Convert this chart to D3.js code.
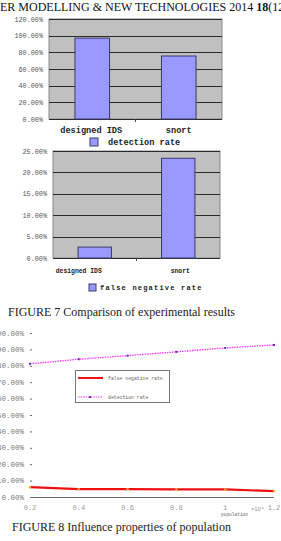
<!DOCTYPE html>
<html>
<head>
<meta charset="utf-8">
<script src="https://cdn.jsdelivr.net/npm/d3@7"></script>
<style>
  body { margin: 0; background: #fff; }
  svg { display: block; }
</style>
</head>
<body>
<svg width="281" height="541"></svg>
<script>
//	data for figure 7 (bar charts)
var categories = ["designed IDS", "snort"];
var detectionRate = [0.97, 0.756];
var falseNegRate = [0.0255, 0.233];
var detTicks = [0, 0.2, 0.4, 0.6, 0.8, 1.0, 1.2];
var fnTicks = [0, 0.05, 0.10, 0.15, 0.20, 0.25];

//	data for figure 8 (line chart)
var population = [0.2, 0.4, 0.6, 0.8, 1.0, 1.2];
var popDetection = [0.812, 0.84, 0.862, 0.885, 0.909, 0.927];
var popFalseNeg = [0.06, 0.048, 0.048, 0.046, 0.046, 0.036];
var popYTicks = [0, 0.1, 0.2, 0.3, 0.4, 0.5, 0.6, 0.7, 0.8, 0.9, 1.0];
var popXTicks = [0.2, 0.4, 0.6, 0.8, 1, 1.2];

var svg = d3.select("svg"),
    width = +svg.attr("width"),
    height = +svg.attr("height");

var mono = "'Liberation Mono', 'DejaVu Sans Mono', monospace",
    serif = "'Liberation Serif', 'Times New Roman', serif";

var pct = d3.format(".2%");

// running header (cut off by the page edge)
svg.append("text")
    .attr("x", 0)
    .attr("y", 11)
    .attr("font-family", serif)
    .attr("font-size", 12)
    .attr("fill", "#111")
    .html('ER MODELLING &amp; NEW TECHNOLOGIES 2014 <tspan font-weight="bold">18</tspan>(12)');

//	a simple excel-ish bar chart
function barChart(opt) {
  var x = d3.scaleBand()
      .domain(categories)
      .range([opt.left, opt.right])
      .paddingInner(0.6)
      .paddingOuter(0.3);

  var y = d3.scaleLinear()
      .domain([0, opt.max])
      .range([opt.bottom, opt.top]);

  var g = svg.append("g");

  // grey plot area
  g.append("rect")
      .attr("x", opt.left)
      .attr("y", opt.top)
      .attr("width", opt.right - opt.left)
      .attr("height", opt.bottom - opt.top)
      .attr("fill", "#c0c0c0")
      .attr("stroke", "#8a8a8a")
      .attr("stroke-width", 1);

  // gridlines
  g.selectAll(".grid")
      .data(opt.ticks)
      .enter().append("line")
      .attr("class", "grid")
      .attr("x1", opt.left)
      .attr("x2", opt.right)
      .attr("y1", function(d) { return Math.round(y(d)) + 0.5; })
      .attr("y2", function(d) { return Math.round(y(d)) + 0.5; })
      .attr("stroke", "#2a2a2a")
      .attr("stroke-width", 1);

  // tick labels
  g.selectAll(".ylab")
      .data(opt.ticks)
      .enter().append("text")
      .attr("x", opt.left - 6)
      .attr("y", function(d) { return y(d) + 2.5; })
      .attr("text-anchor", "end")
      .attr("font-family", mono)
      .attr("font-size", opt.tickFont)
      .attr("fill", "#555")
      .text(function(d) { return pct(d); });

  // bars
  g.selectAll(".bar")
      .data(opt.values)
      .enter().append("rect")
      .attr("class", "bar")
      .attr("x", function(d, i) { return x(categories[i]); })
      .attr("y", function(d) { return y(d); })
      .attr("width", x.bandwidth())
      .attr("height", function(d) { return opt.bottom - y(d); })
      .attr("fill", "#9999ff")
      .attr("stroke", "#3a3a6a")
      .attr("stroke-width", 1);

  // small centre tick on the category axis
  g.append("line")
      .attr("x1", (opt.left + opt.right) / 2)
      .attr("x2", (opt.left + opt.right) / 2)
      .attr("y1", opt.bottom)
      .attr("y2", opt.bottom + 3)
      .attr("stroke", "#444");

  // category labels
  g.selectAll(".xlab")
      .data(categories)
      .enter().append("text")
      .attr("x", function(d, i) { return x(d) + x.bandwidth() / 2 + opt.labShift[i]; })
      .attr("y", opt.labY)
      .attr("text-anchor", "middle")
      .attr("font-family", mono)
      .attr("font-size", opt.labFont)
      .attr("font-weight", "bold")
      .attr("fill", "#222")
      .text(function(d) { return d; });

  // legend
  g.append("rect")
      .attr("x", opt.legX)
      .attr("y", opt.legY)
      .attr("width", opt.legSize)
      .attr("height", opt.legSize)
      .attr("fill", "#9999ff")
      .attr("stroke", "#3a3a6a");

  g.append("text")
      .attr("x", opt.legX + opt.legSize + opt.legGap)
      .attr("y", opt.legY + opt.legSize - 1)
      .attr("font-family", mono)
      .attr("font-size", opt.legFont)
      .attr("font-weight", "bold")
      .attr("letter-spacing", opt.legSpacing)
      .attr("fill", "#222")
      .text(opt.legend);
}

barChart({
  values: detectionRate, ticks: detTicks, max: 1.2,
  left: 49, right: 222, top: 19, bottom: 119,
  tickFont: 6.8, labFont: 8.6, labY: 133, labShift: [-1, 0],
  legX: 90, legY: 138, legSize: 8, legGap: 10, legFont: 8.6, legSpacing: 0,
  legend: "detection rate"
});

barChart({
  values: falseNegRate, ticks: fnTicks, max: 0.25,
  left: 53, right: 220, top: 151, bottom: 258,
  tickFont: 6.8, labFont: 6.4, labY: 273, labShift: [-16, 2],
  legX: 89, legY: 284, legSize: 7, legGap: 4, legFont: 7, legSpacing: 1.2,
  legend: "false negative rate"
});

// figure 7 caption
svg.append("text")
    .attr("x", 8)
    .attr("y", 316)
    .attr("font-family", serif)
    .attr("font-size", 12)
    .attr("fill", "#222")
    .text("FIGURE 7 Comparison of experimental results");

//	figure 8 line chart
var x8 = d3.scaleLinear()
    .domain([0.2, 1.2])
    .range([30, 274]);

var y8 = d3.scaleLinear()
    .domain([0, 1])
    .range([497, 333]);

var g8 = svg.append("g");

// y labels, mostly cut by the page edge
g8.selectAll(".ylab8")
    .data(popYTicks)
    .enter().append("text")
    .attr("x", 24)
    .attr("y", function(d) { return y8(d) + 2.5; })
    .attr("text-anchor", "end")
    .attr("font-family", mono)
    .attr("font-size", 7.5)
    .attr("fill", "#777")
    .text(function(d) { return pct(d); });

g8.selectAll(".ytick8")
    .data(popYTicks.filter(function(d) { return d > 0; }))
    .enter().append("line")
    .attr("x1", 30)
    .attr("x2", 32)
    .attr("y1", function(d) { return y8(d) + 0.5; })
    .attr("y2", function(d) { return y8(d) + 0.5; })
    .attr("stroke", "#666");

// x axis
g8.append("line")
    .attr("x1", x8(0.2))
    .attr("x2", x8(1.2))
    .attr("y1", 497.5)
    .attr("y2", 497.5)
    .attr("stroke", "#666")
    .attr("stroke-width", 1);

g8.selectAll(".xlab8")
    .data(popXTicks)
    .enter().append("text")
    .attr("x", function(d) { return x8(d); })
    .attr("y", 510)
    .attr("text-anchor", "middle")
    .attr("font-family", mono)
    .attr("font-size", 7)
    .attr("fill", "#999")
    .text(function(d) { return d; });

g8.append("text")
    .attr("x", 221)
    .attr("y", 516)
    .attr("font-family", mono)
    .attr("font-size", 4.5)
    .attr("fill", "#666")
    .text("population");

g8.append("text")
    .attr("x", 251)
    .attr("y", 511)
    .attr("font-family", mono)
    .attr("font-size", 5.5)
    .attr("fill", "#999")
    .text("×10⁴");

var line8 = d3.line()
    .x(function(d) { return x8(d[0]); })
    .y(function(d) { return y8(d[1]); });

// detection rate: dotted magenta
g8.append("path")
    .datum(d3.zip(population, popDetection))
    .attr("fill", "none")
    .attr("stroke", "#ff33ff")
    .attr("stroke-width", 1.3)
    .attr("stroke-dasharray", "1.5,1")
    .attr("d", line8);

g8.selectAll(".detpt")
    .data(d3.zip(population, popDetection))
    .enter().append("rect")
    .attr("x", function(d) { return x8(d[0]) - 1; })
    .attr("y", function(d) { return y8(d[1]) - 1; })
    .attr("width", 2)
    .attr("height", 2)
    .attr("fill", "#5533bb");

// false negative rate: thick red
g8.append("path")
    .datum(d3.zip(population, popFalseNeg))
    .attr("fill", "none")
    .attr("stroke", "#ee1111")
    .attr("stroke-width", 2.2)
    .attr("d", line8);

g8.selectAll(".fnpt")
    .data(d3.zip(population, popFalseNeg))
    .enter().append("circle")
    .attr("cx", function(d) { return x8(d[0]); })
    .attr("cy", function(d) { return y8(d[1]); })
    .attr("r", 1.2)
    .attr("fill", "#ffaa33");

// legend box
var leg = g8.append("g");

leg.append("rect")
    .attr("x", 75.5)
    .attr("y", 370.5)
    .attr("width", 94)
    .attr("height", 32)
    .attr("fill", "#fff")
    .attr("stroke", "#777")
    .attr("stroke-width", 1);

leg.append("line")
    .attr("x1", 78).attr("x2", 103)
    .attr("y1", 378).attr("y2", 378)
    .attr("stroke", "#ee1111")
    .attr("stroke-width", 2);

leg.append("line")
    .attr("x1", 78).attr("x2", 103)
    .attr("y1", 397).attr("y2", 397)
    .attr("stroke", "#ff33ff")
    .attr("stroke-width", 1.2)
    .attr("stroke-dasharray", "1.5,1");

leg.append("rect")
    .attr("x", 89).attr("y", 396)
    .attr("width", 2).attr("height", 2)
    .attr("fill", "#5533bb");

leg.append("text")
    .attr("x", 108)
    .attr("y", 380)
    .attr("font-family", mono)
    .attr("font-size", 4.8)
    .attr("fill", "#666")
    .text("false negative rate");

leg.append("text")
    .attr("x", 108)
    .attr("y", 399)
    .attr("font-family", mono)
    .attr("font-size", 4.8)
    .attr("fill", "#666")
    .text("detection rate");

// figure 8 caption
svg.append("text")
    .attr("x", 12)
    .attr("y", 531)
    .attr("font-family", serif)
    .attr("font-size", 12)
    .attr("fill", "#222")
    .text("FIGURE 8 Influence properties of population");
</script>
</body>
</html>
